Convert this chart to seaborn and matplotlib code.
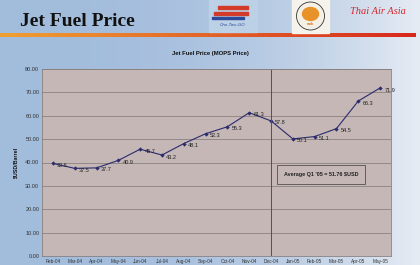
import numpy as np
import pandas as pd
import matplotlib
matplotlib.use("Agg")
import matplotlib.pyplot as plt
import seaborn as sns
from matplotlib.patches import Rectangle, Ellipse

# Jet fuel price (MOPS), monthly, USD/barrel
months = ['Feb-04', 'Mar-04', 'Apr-04', 'May-04', 'Jun-04', 'Jul-04', 'Aug-04', 'Sep-04',
          'Oct-04', 'Nov-04', 'Dec-04', 'Jan-05', 'Feb-05', 'Mar-05', 'Apr-05', 'May-05']
price = [39.6, 37.5, 37.7, 40.9, 45.7, 43.2, 48.1, 52.3,
         55.3, 61.3, 57.8, 50.1, 51.1, 54.5, 66.3, 71.9]
y_ticks = [0, 10, 20, 30, 40, 50, 60, 70, 80]
avg_note = "Average Q1 '05 = 51.76 $USD"

df = pd.DataFrame({'month': months, 'price': price})

sns.set_style("white")
plt.rcParams['font.family'] = ['Liberation Sans', 'DejaVu Sans']

fig = plt.figure(figsize=(4.2, 2.65), dpi=100)

# slide background (blue gradient, lighter to the right)
bg = fig.add_axes([0, 0, 1, 1])
grad = np.linspace(0, 1, 256) ** 2.5
left_c = np.array([162, 188, 220]) / 255
right_c = np.array([230, 236, 244]) / 255
img = left_c[None, :] * (1 - grad[:, None]) + right_c[None, :] * grad[:, None]
bg.imshow(img[None, :, :], aspect='auto', extent=[0, 1, 0, 1])
bg.set_xlim(0, 1)
bg.set_ylim(0, 1)
bg.axis('off')

# header rule, orange -> red
rule = np.linspace(0, 1, 256)
oc = np.array([240, 160, 50]) / 255
rc = np.array([215, 40, 30]) / 255
rimg = oc[None, :] * (1 - rule[:, None]) + rc[None, :] * rule[:, None]
bg.imshow(rimg[None, :, :], aspect='auto', extent=[0, 0.99, 1 - 37 / 265, 1 - 33 / 265])

bg.text(0.048, 1 - 22 / 265, 'Jet Fuel Price', fontsize=14, fontweight='bold',
        family=['Liberation Serif', 'DejaVu Serif'], color='#111111', va='center')

# logo placeholders
bg.add_patch(Rectangle((209 / 420, 1 - 32 / 265), 48 / 420, 32 / 265, color='#bcd0e6'))
bg.add_patch(Rectangle((218 / 420, 1 - 9 / 265), 30 / 420, 3 / 265, color='#d23a2a'))
bg.add_patch(Rectangle((214 / 420, 1 - 15 / 265), 34 / 420, 3.5 / 265, color='#d23a2a'))
bg.add_patch(Rectangle((212 / 420, 1 - 19 / 265), 32 / 420, 2.5 / 265, color='#2c4a9a'))
bg.text(233 / 420, 1 - 25 / 265, 'One-Two-GO', fontsize=3.2, color='#2c4a9a',
        ha='center', va='center', style='italic')
bg.add_patch(Rectangle((292 / 420, 1 - 33 / 265), 37 / 420, 33 / 265, color='#f6f3ec'))
bg.add_patch(Ellipse((310.5 / 420, 1 - 16 / 265), 28 / 420, 28 / 265,
                     facecolor='#f5f0e6', edgecolor='#333333', lw=0.6))
bg.add_patch(Ellipse((310.5 / 420, 1 - 14 / 265), 16 / 420, 13 / 265, color='#e8922a'))
bg.text(310.5 / 420, 1 - 24 / 265, 'nok', fontsize=3, color='#e07a20',
        ha='center', va='center', fontweight='bold')
bg.text(350 / 420, 1 - 12 / 265, 'Thai Air Asia', fontsize=7.5, color='#d8262c',
        style='italic', family=['Liberation Serif', 'DejaVu Serif'], va='center')

bg.text(0.5, 1 - 53 / 265, 'Jet Fuel Price (MOPS Price)', fontsize=4.2,
        fontweight='bold', ha='center', va='center', color='#111111')

# chart
ax = fig.add_axes([42 / 420, 1 - 256 / 265, 349 / 420, 187 / 265])
ax.set_facecolor('#c4b7b6')
sns.lineplot(data=df, x='month', y='price', ax=ax, color='#2b2b6e', lw=0.8,
             marker='D', markersize=2.2, markeredgewidth=0, sort=False)

for i, (m, v) in enumerate(zip(months, price)):
    ax.annotate(f'{v:.1f}', (i, v), xytext=(3, -1.5), textcoords='offset points',
                fontsize=4, color='#222222', va='center')

ax.axvline(10, color='#555050', lw=0.7)
ax.text(12.3, 34.8, avg_note, fontsize=3.9, fontweight='bold', ha='center',
        va='center', color='#222222',
        bbox=dict(boxstyle='square,pad=1.3', fc='#c4b7b6', ec='#555050', lw=0.6))

ax.set_xlim(-0.5, len(months) - 0.5)
ax.set_ylim(0, 80)
ax.set_yticks(y_ticks)
ax.set_yticklabels([f'{t:.2f}' for t in y_ticks], fontsize=4, color='#333333')
ax.set_xticks(range(len(months)))
ax.set_xticklabels(months, fontsize=3.4, color='#333333')
ax.tick_params(axis='both', length=0, pad=2)
ax.yaxis.grid(True, color='#8c8282', lw=0.6)
ax.set_axisbelow(True)
ax.set_xlabel('')
ax.set_ylabel('$USD/Barrel', fontsize=3.8, fontweight='bold', labelpad=5, color='#111111')
for s in ax.spines.values():
    s.set_color('#8a8080')
    s.set_linewidth(0.6)

fig.savefig('out.png', dpi=100)
